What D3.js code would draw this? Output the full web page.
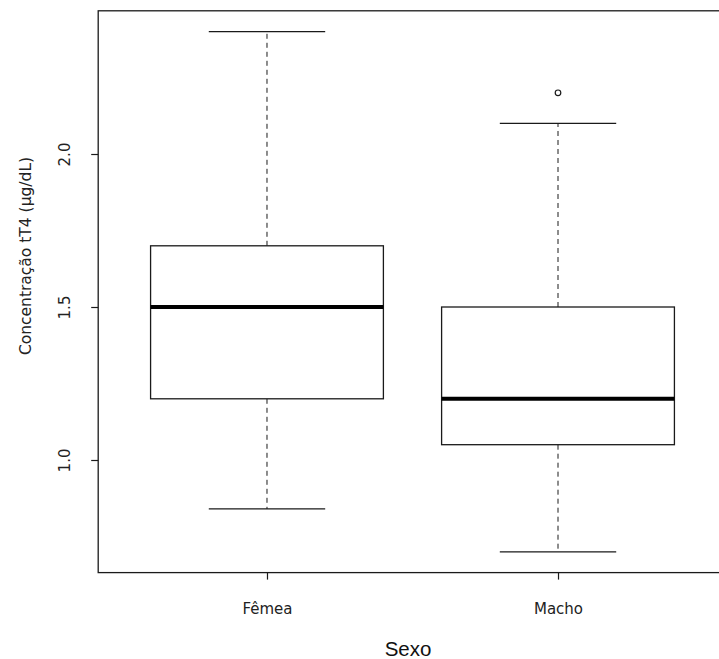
<!DOCTYPE html>
<html><head><meta charset="utf-8">
<script src="https://cdn.jsdelivr.net/npm/d3@7"></script>
<style>body{margin:0;background:#fff;}svg{display:block;}</style>
</head><body>
<script>
const categories = ["Fêmea", "Macho"];
const whiskerLow = [0.84, 0.70];
const q1 = [1.20, 1.05];
const median = [1.50, 1.20];
const q3 = [1.70, 1.50];
const whiskerHigh = [2.40, 2.10];
const outliers = [[], [2.20]];
const yTicks = [1.0, 1.5, 2.0];
const yLabel = "Concentração tT4 (μg/dL)";
const xLabel = "Sexo";

(function () {
const W = 719, H = 659;
const svg = d3.select("body").append("svg").attr("width", W).attr("height", H);
const pL = 98.2, pR = 726.8, pT = 10.8, pB = 572.6;

const x = d3.scaleLinear().domain([0.42, 2.58]).range([pL, pR]);
const y = d3.scaleLinear().domain([0.632, 2.468]).range([pB, pT]);
const col = "#1a1a1a";
const bw = 0.8, cap = 0.4;
const font = "Liberation Sans, Arial, sans-serif";
const font2 = "DejaVu Sans, Verdana, sans-serif";

categories.forEach((c, i) => {
  const cx = i + 1;
  const g = svg.append("g");
  g.append("line").attr("x1", x(cx)).attr("x2", x(cx)).attr("y1", y(q3[i])).attr("y2", y(whiskerHigh[i]))
    .attr("stroke", col).attr("stroke-dasharray", "5,4");
  g.append("line").attr("x1", x(cx)).attr("x2", x(cx)).attr("y1", y(q1[i])).attr("y2", y(whiskerLow[i]))
    .attr("stroke", col).attr("stroke-dasharray", "5,4");
  [whiskerHigh[i], whiskerLow[i]].forEach(v => {
    g.append("line").attr("x1", x(cx - cap / 2)).attr("x2", x(cx + cap / 2)).attr("y1", y(v)).attr("y2", y(v))
      .attr("stroke", col).attr("stroke-width", 1.3);
  });
  g.append("rect").attr("x", x(cx - bw / 2)).attr("width", x(cx + bw / 2) - x(cx - bw / 2))
    .attr("y", y(q3[i])).attr("height", y(q1[i]) - y(q3[i]))
    .attr("fill", "white").attr("stroke", col).attr("stroke-width", 1.3);
  g.append("line").attr("x1", x(cx - bw / 2)).attr("x2", x(cx + bw / 2)).attr("y1", y(median[i])).attr("y2", y(median[i]))
    .attr("stroke", "#000").attr("stroke-width", 4);
  outliers[i].forEach(v => {
    g.append("circle").attr("cx", x(cx)).attr("cy", y(v)).attr("r", 2.8)
      .attr("fill", "none").attr("stroke", col).attr("stroke-width", 1.2);
  });
});

svg.append("rect").attr("x", pL).attr("y", pT).attr("width", pR - pL).attr("height", pB - pT)
  .attr("fill", "none").attr("stroke", col).attr("stroke-width", 1.3);

const yAxis = d3.axisLeft(y).tickValues(yTicks).tickFormat(d3.format(".1f")).tickSize(7).tickSizeOuter(0);
const ya = svg.append("g").attr("transform", `translate(${pL},0)`).call(yAxis);
ya.select(".domain").remove();
ya.selectAll(".tick line").attr("stroke", col).attr("stroke-width", 1.2);
ya.selectAll(".tick text").attr("x", null).attr("dy", "0.36em")
  .attr("text-anchor", "middle").attr("font-family", font2).attr("font-size", 15)
  .attr("fill", "#222")
  .attr("transform", `translate(${65 - pL},0) rotate(-90)`);

const xAxis = d3.axisBottom(x).tickValues([1, 2]).tickFormat((d, i) => categories[i]).tickSize(7).tickSizeOuter(0);
const xa = svg.append("g").attr("transform", `translate(0,${pB})`).call(xAxis);
xa.select(".domain").remove();
xa.selectAll(".tick line").attr("stroke", col).attr("stroke-width", 1.2);
xa.selectAll(".tick text").attr("y", 41).attr("dy", "0").attr("font-family", font2)
  .attr("font-size", 15).attr("fill", "#222");

svg.append("text").attr("x", 408).attr("y", 656)
  .attr("text-anchor", "middle").attr("font-family", font).attr("font-size", 20.5)
  .attr("fill", "#111").text(xLabel);

svg.append("text").attr("transform", `translate(31,256) rotate(-90)`)
  .attr("text-anchor", "middle").attr("font-family", font2).attr("font-size", 15.5)
  .attr("fill", "#222").text(yLabel);
})();
</script>
</body></html>
